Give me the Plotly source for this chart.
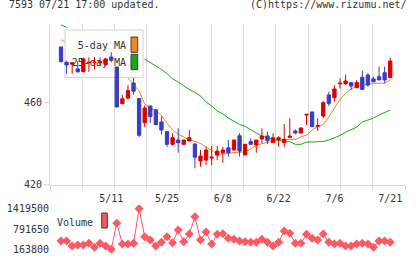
import plotly.graph_objects as go

# ---------------- data ----------------
tick_pos = [9, 19, 29, 39, 49, 59]
tick_labels = ["5/11", "5/25", "6/8", "6/22", "7/6", "7/21"]

opens = [487.2, 479.7, 478.8, 476.5, 475.1, 479.5, 479.5, 479.5, 478.6, 482.3,
         477.4, 459.5, 462.3, 469.6, 462.0, 450.2, 458.4, 456.6, 450.6, 445.9,
         439.7, 441.8, 439.7, 441.3, 439.9, 431.6, 432.0, 433.0, 434.4, 435.6,
         438.0, 436.9, 443.9, 434.5, 441.0, 439.4, 442.3, 443.8, 440.5, 442.1,
         440.5, 443.1, 446.2, 445.2, 454.0, 455.5, 448.5, 453.5, 463.8, 462.4,
         469.2, 469.3, 469.8, 467.3, 472.4, 473.5, 471.6, 472.7, 474.6, 472.2]
highs = [487.2, 480.5, 479.7, 480.3, 482.1, 482.1, 482.1, 482.1, 481.8, 484.6,
         477.4, 463.9, 468.5, 472.0, 462.0, 458.7, 458.4, 456.6, 453.4, 445.9,
         445.1, 447.5, 441.8, 446.7, 439.9, 436.9, 438.5, 439.0, 438.9, 438.5,
         441.8, 441.8, 445.1, 439.7, 442.6, 441.8, 447.5, 445.9, 445.1, 443.7,
         449.6, 452.4, 447.0, 448.1, 454.3, 455.5, 452.4, 460.8, 465.4, 468.6,
         471.9, 473.5, 469.8, 471.0, 475.6, 474.3, 472.7, 477.6, 477.6, 482.0]
lows = [480.0, 474.1, 474.1, 474.6, 475.1, 475.1, 476.2, 478.0, 477.8, 479.7,
        457.9, 459.5, 461.5, 463.9, 443.3, 448.1, 450.1, 449.3, 444.4, 438.5,
        439.0, 435.6, 439.7, 441.3, 428.0, 428.8, 429.6, 429.6, 432.0, 430.7,
        433.7, 436.9, 433.7, 434.5, 439.7, 435.6, 440.2, 439.9, 440.5, 438.5,
        438.5, 442.6, 444.6, 445.0, 449.1, 448.3, 446.2, 452.4, 458.4, 460.5,
        467.0, 468.6, 466.2, 467.3, 466.5, 467.8, 470.2, 471.1, 469.5, 472.2]
closes = [480.0, 478.4, 479.5, 475.1, 481.3, 479.7, 479.7, 479.9, 481.3, 480.7,
          457.9, 461.9, 465.9, 465.6, 444.1, 457.4, 453.2, 449.3, 446.7, 439.7,
          442.9, 440.5, 441.8, 442.9, 433.4, 434.0, 436.9, 433.4, 436.4, 436.9,
          435.6, 441.8, 436.4, 439.7, 439.7, 441.8, 443.8, 441.5, 442.9, 442.9,
          442.1, 443.7, 445.2, 447.6, 454.3, 448.3, 448.8, 460.0, 459.7, 466.7,
          469.5, 470.6, 468.1, 469.8, 466.5, 468.6, 470.2, 471.1, 471.1, 480.3]

# moving averages (None where hidden by the legend box)
ma5 = [490.8, 489.1, None, None, None, None, None, None, None, None,
       None, None, 472.0, 469.1, 465.7, 459.4, 457.4, 456.2, 453.8, 449.9,
       446.7, 444.7, 443.4, 441.8, 441.1, 440.1, 438.4, 436.7, 435.0, 435.0,
       435.5, 435.7, 435.8, 436.0, 437.4, 439.1, 440.0, 440.7, 441.3, 441.8,
       442.1, 442.1, 442.1, 443.3, 444.2, 446.7, 448.4, 449.4, 453.0, 457.4,
       461.6, 464.5, 466.7, 467.9, 468.6, 469.0, 469.5, 469.5, 469.5, 471.1]
ma25 = [497.9, 496.7, None, None, None, None, None, None, None, None,
        None, None, None, None, None, 481.3, 479.7, 477.9, 476.2, 474.2,
        471.6, 470.1, 468.1, 466.4, 465.0, 463.3, 460.3, 458.4, 456.0, 454.6,
        452.5, 450.8, 449.4, 448.5, 446.9, 445.2, 443.6, 443.0, 442.3, 441.6,
        441.0, 441.0, 439.7, 439.7, 440.8, 440.8, 440.8, 441.1, 441.8, 442.8,
        444.0, 445.6, 446.9, 448.1, 450.6, 451.6, 452.5, 454.0, 455.2, 456.4]

volume = [420500, 420500, 265900, 296800, 296800, 349400, 225700, 349400, 265900, 163800,
          968000, 327700, 327700, 349400, 1419500, 553500, 451400, 265900, 380300, 553500,
          367900, 760700, 398900, 637000, 1172100, 451400, 698900, 327700, 627700, 646300,
          504000, 473100, 420500, 398900, 380300, 380300, 473100, 380300, 265900, 380300,
          729800, 658700, 349400, 349400, 627700, 504000, 451400, 637000, 380300, 327700,
          349400, 265900, 265900, 327700, 349400, 327700, 225700, 420500, 420500, 380300]

price_ticks = [420, 460]
vol_ticks = [163800, 791650, 1419500]
vol_tick_text = ["163800", "791650", "1419500"]

x = list(range(len(closes)))

# ---------------- styling ----------------
FONT = "DejaVu Sans Mono"
TXT = "#333333"
GRID = "#d8d8d8"
RED = "#dc0000"
BLUE = "#3c3cbe"
ORANGE = "#f0881a"
GREEN = "#16a816"
VOL = "#fa5a64"

W, H = 420, 259
ML, MR, MT, MB = 50, 15, 24, 6
plot_w = W - ML - MR
plot_h = H - MT - MB

def py(pix):  # pixel row -> paper y
    return (H - MB - pix) / plot_h

def px(pix):  # pixel col -> paper x
    return (pix - ML) / plot_w

# x range so that candle i sits at 61 + 5.58 i px
step = 5.58
xa = (ML - 61) / step
xb = (W - MR - 61) / step
dgrid = (xb - xa) / 11

main_dom = [py(184.7), 1.0]
vol_dom = [0.0, py(205)]
y_top = 420 + (184.7 - MT) / 2.05
vol_px = (249.3 - 208.7) / (1419500 - 163800)
vol_lo = 163800 - (253 - 249.3) / vol_px
vol_hi = 1419500 + (208.7 - 205) / vol_px

fig = go.Figure()

# MA lines on main subplot
fig.add_trace(go.Scatter(x=x, y=ma5, mode="lines", line=dict(color=ORANGE, width=1),
                         connectgaps=False, hoverinfo="skip", xaxis="x", yaxis="y"))
fig.add_trace(go.Scatter(x=x, y=ma25, mode="lines", line=dict(color=GREEN, width=1),
                         connectgaps=False, hoverinfo="skip", xaxis="x", yaxis="y"))

# legend box on overlay (axis units 0..1 across the main plot area)
def lx(pix):
    return (pix - ML) / plot_w

def ly(pix):
    return (184.7 - pix) / (184.7 - MT)

def rect(x0, x1, y0, y1):
    return [x0, x1, x1, x0, x0], [y0, y0, y1, y1, y0]

bx, by = rect(lx(65), lx(143), ly(77.3), ly(30))
fig.add_trace(go.Scatter(x=bx, y=by, mode="lines", fill="toself", fillcolor="white",
                         line=dict(color="#d0d0d0", width=1), hoverinfo="skip",
                         xaxis="x3", yaxis="y3"))
for (c, y0, y1) in [(ORANGE, 52.3, 37), (GREEN, 69.7, 54.3)]:
    sx, sy = rect(lx(131), lx(137.7), ly(y0), ly(y1))
    fig.add_trace(go.Scatter(x=sx, y=sy, mode="lines", fill="toself", fillcolor=c,
                             line=dict(color="#3a3a3a", width=1), hoverinfo="skip",
                             xaxis="x3", yaxis="y3"))
fig.add_trace(go.Scatter(x=[lx(126), lx(126)], y=[ly(46), ly(63)], mode="text",
                         text=["5-day MA", "25-day MA"], textposition="middle left",
                         textfont=dict(family=FONT, size=10, color=TXT),
                         hoverinfo="skip", xaxis="x3", yaxis="y3"))

# candles on top overlay
fig.add_trace(go.Candlestick(
    x=x, open=opens, high=highs, low=lows, close=closes,
    increasing=dict(line=dict(color=RED, width=1), fillcolor=RED),
    decreasing=dict(line=dict(color=BLUE, width=1), fillcolor=BLUE),
    whiskerwidth=0, hoverinfo="skip", xaxis="x4", yaxis="y4"))

# volume
fig.add_trace(go.Scatter(x=x, y=volume, mode="lines+markers",
                         line=dict(color=VOL, width=1),
                         marker=dict(symbol="diamond", size=7, color=VOL),
                         hoverinfo="skip", xaxis="x2", yaxis="y2"))

tickfont = dict(family=FONT, size=10, color=TXT)

fig.update_layout(
    width=W, height=H,
    margin=dict(l=ML, r=MR, t=MT, b=MB, pad=0, autoexpand=False),
    paper_bgcolor="white", plot_bgcolor="white",
    showlegend=False,
    boxgap=0.15,
    xaxis=dict(domain=[0, 1], anchor="y", range=[xa, xb], tick0=xa, dtick=dgrid,
               tickmode="linear", showgrid=True, gridcolor=GRID, gridwidth=1,
               ticks="outside", ticklen=4, tickcolor=GRID, showticklabels=False,
               showline=True, linecolor=GRID, zeroline=False, automargin=False),
    yaxis=dict(domain=main_dom, anchor="x", range=[420, y_top], tickvals=price_ticks,
               ticks="outside", ticklen=5, tickcolor=GRID, showgrid=False,
               showline=True, linecolor=GRID, zeroline=False, tickfont=tickfont,
               automargin=False),
    xaxis3=dict(overlaying="x", range=[0, 1], visible=False),
    yaxis3=dict(overlaying="y", range=[0, 1], visible=False),
    xaxis4=dict(overlaying="x", range=[xa, xb], visible=False,
                rangeslider=dict(visible=False)),
    yaxis4=dict(overlaying="y", range=[420, y_top], visible=False),
    xaxis2=dict(domain=[0, 1], anchor="y2", range=[xa, xb], side="top",
                tickvals=tick_pos, ticktext=tick_labels, ticks="", showgrid=False,
                showline=False, zeroline=False, tickfont=tickfont, automargin=False),
    yaxis2=dict(domain=vol_dom, anchor="x2", range=[vol_lo, vol_hi], tickvals=vol_ticks,
                ticktext=vol_tick_text, ticks="", showgrid=False, showline=False,
                zeroline=False, tickfont=tickfont, automargin=False),
    annotations=[
        dict(text="7593 07/21 17:00 updated.", xref="paper", yref="paper",
             x=px(7), y=py(4.5), xanchor="left", yanchor="middle", showarrow=False,
             font=dict(family=FONT, size=10, color=TXT)),
        dict(text="(C)https://www.rizumu.net/", xref="paper", yref="paper",
             x=px(409), y=py(4.5), xanchor="right", yanchor="middle", showarrow=False,
             font=dict(family=FONT, size=10, color=TXT)),
        dict(text="Volume", xref="paper", yref="paper",
             x=px(95), y=py(222), xanchor="right", yanchor="middle", showarrow=False,
             font=dict(family=FONT, size=10, color=TXT)),
    ],
    shapes=[
        dict(type="rect", xref="paper", yref="paper", x0=px(101.7), x1=px(107.3),
             y0=py(228), y1=py(213), fillcolor=VOL, line=dict(color="#3a3a3a", width=1)),
    ],
)

fig.write_html("out.html")
